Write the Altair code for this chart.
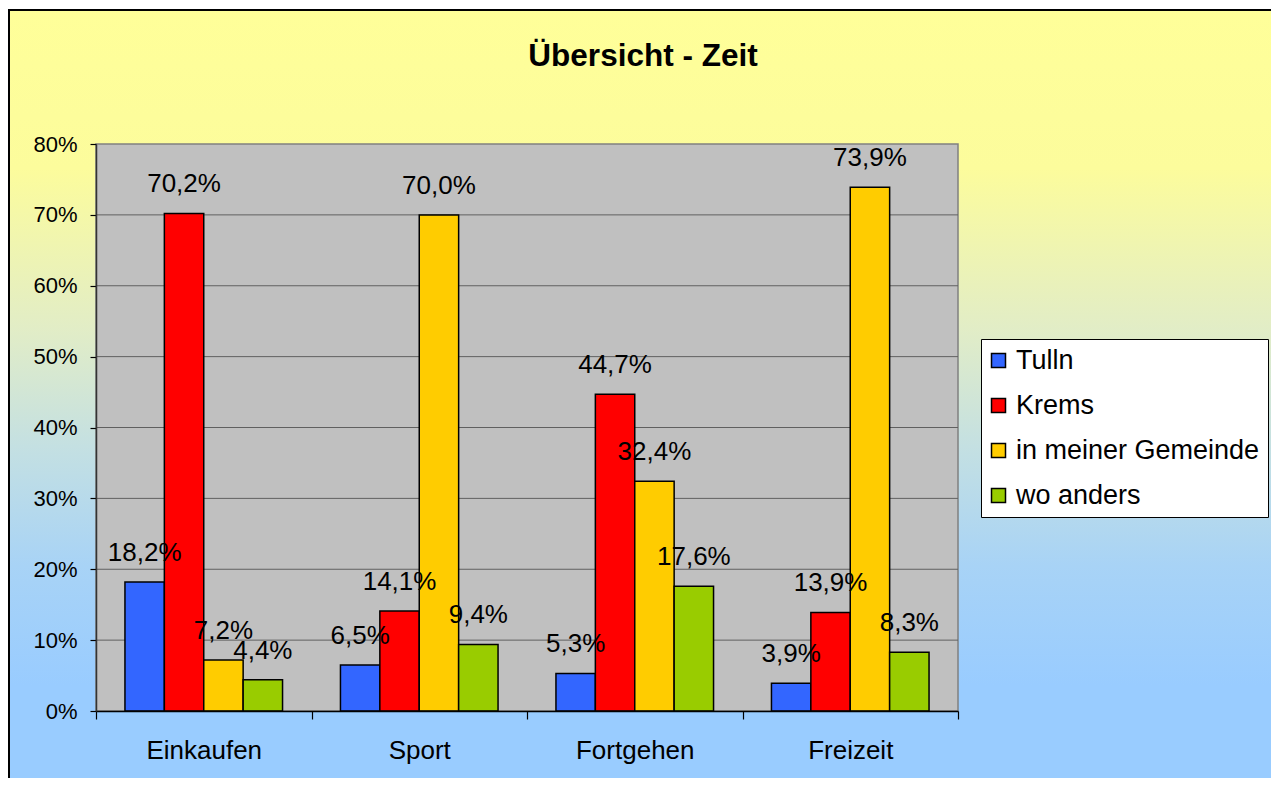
import altair as alt
import pandas as pd

categories = ["Einkaufen", "Sport", "Fortgehen", "Freizeit"]
series = ["Tulln", "Krems", "in meiner Gemeinde", "wo anders"]
tulln = [18.2, 6.5, 5.3, 3.9]
krems = [70.2, 14.1, 44.7, 13.9]
gemeinde = [7.2, 70.0, 32.4, 73.9]
anders = [4.4, 9.4, 17.6, 8.3]
colors = ["#3366FF", "#FF0000", "#FFCC00", "#99CC00"]
y_ticks = [0, 10, 20, 30, 40, 50, 60, 70, 80]
grid_vals = [10, 20, 30, 40, 50, 60, 70]

rows = []
for s, vals in zip(series, [tulln, krems, gemeinde, anders]):
    for c, v in zip(categories, vals):
        rows.append({"Kategorie": c, "Serie": s, "Wert": v,
                     "Label": f"{v:.1f}".replace(".", ",") + "%"})
df = pd.DataFrame(rows)

W, H = 862, 567
FONT = "Liberation Sans"

yscale = alt.Scale(domain=[0, 80], nice=False, zero=True)

gradient = alt.Gradient(
    gradient="linear", x1=0, x2=0, y1=0, y2=1,
    stops=[
        alt.GradientStop(offset=0.0, color="#FFFF99"),
        alt.GradientStop(offset=0.2, color="#FCFC9C"),
        alt.GradientStop(offset=0.4, color="#E2EDC6"),
        alt.GradientStop(offset=0.55, color="#C4E0E2"),
        alt.GradientStop(offset=0.7, color="#A8D3F6"),
        alt.GradientStop(offset=0.85, color="#99CCFF"),
        alt.GradientStop(offset=1.0, color="#99CCFF"),
    ],
)

one = pd.DataFrame({"d": [0]})

bg = alt.Chart(one).mark_rect(fill=gradient, stroke="black", strokeWidth=2).encode(
    x=alt.value(-87), x2=alt.value(1300), y=alt.value(-134), y2=alt.value(660)
)

plot_bg = alt.Chart(one).mark_rect(fill="#C0C0C0", stroke="#808080", strokeWidth=1.5).encode(
    x=alt.value(0), x2=alt.value(W), y=alt.value(0), y2=alt.value(H)
)

yaxis = alt.Axis(
    title=None, values=y_ticks, labelExpr="datum.value + '%'",
    tickSize=6, tickColor="black", tickWidth=1.2,
    domainColor="#333333", domainWidth=1.5,
    labelFontSize=22, labelFont=FONT, labelColor="black", labelPadding=13,
    grid=False, zindex=1,
)

grid = alt.Chart(pd.DataFrame({"Wert": grid_vals})).mark_rule(
    color="#606060", strokeWidth=1
).encode(
    y=alt.Y("Wert:Q", scale=yscale, axis=yaxis)
)

xenc = alt.X(
    "Kategorie:N", sort=categories,
    scale=alt.Scale(paddingInner=0, paddingOuter=0),
    axis=alt.Axis(
        title=None, labelAngle=0, tickBand="extent", tickSize=8,
        tickColor="black", tickWidth=1.2, domainColor="black", domainWidth=1.5,
        labelFontSize=26, labelFont=FONT, labelColor="black", labelPadding=18,
        grid=False, zindex=1,
    ),
)
xoff = alt.XOffset("Serie:N", sort=series,
                   scale=alt.Scale(paddingInner=0, paddingOuter=0.735))
yenc = alt.Y("Wert:Q", scale=yscale, axis=yaxis)

bars = alt.Chart(df).mark_bar(stroke="black", strokeWidth=1.5).encode(
    x=xenc, xOffset=xoff, y=yenc,
    color=alt.Color(
        "Serie:N", sort=series,
        scale=alt.Scale(domain=series, range=colors),
        legend=alt.Legend(
            title=None, orient="none", legendX=885, legendY=195,
            fillColor="white", strokeColor="black",
            padding=8, symbolType="square", symbolSize=196, symbolOffset=-4,
            symbolStrokeColor="black", symbolStrokeWidth=1.5,
            labelFontSize=27, labelFont=FONT, labelColor="black",
            labelOffset=4, rowPadding=17, labelLimit=400,
        ),
    ),
)

labels = alt.Chart(df).mark_text(
    fontSize=26, font=FONT, color="black", baseline="alphabetic", dy=-21
).encode(
    x=alt.X("Kategorie:N", sort=categories), xOffset=xoff,
    y=alt.Y("Wert:Q", scale=yscale), text="Label:N"
)

chart = alt.layer(bg, plot_bg, grid, bars, labels).properties(
    width=W, height=H,
    autosize="none",
    padding={"left": 88, "top": 136, "right": 313, "bottom": 67},
    title=alt.TitleParams(
        text="Übersicht - Zeit", fontSize=31.5, fontWeight="bold", font=FONT,
        color="black", anchor="middle", frame="group", dx=116, offset=-88,
        baseline="alphabetic",
    ),
).configure_view(stroke=None).configure_legend(strokeWidth=1)

chart.save("out.html", embed_options={"renderer": "svg", "actions": False})
